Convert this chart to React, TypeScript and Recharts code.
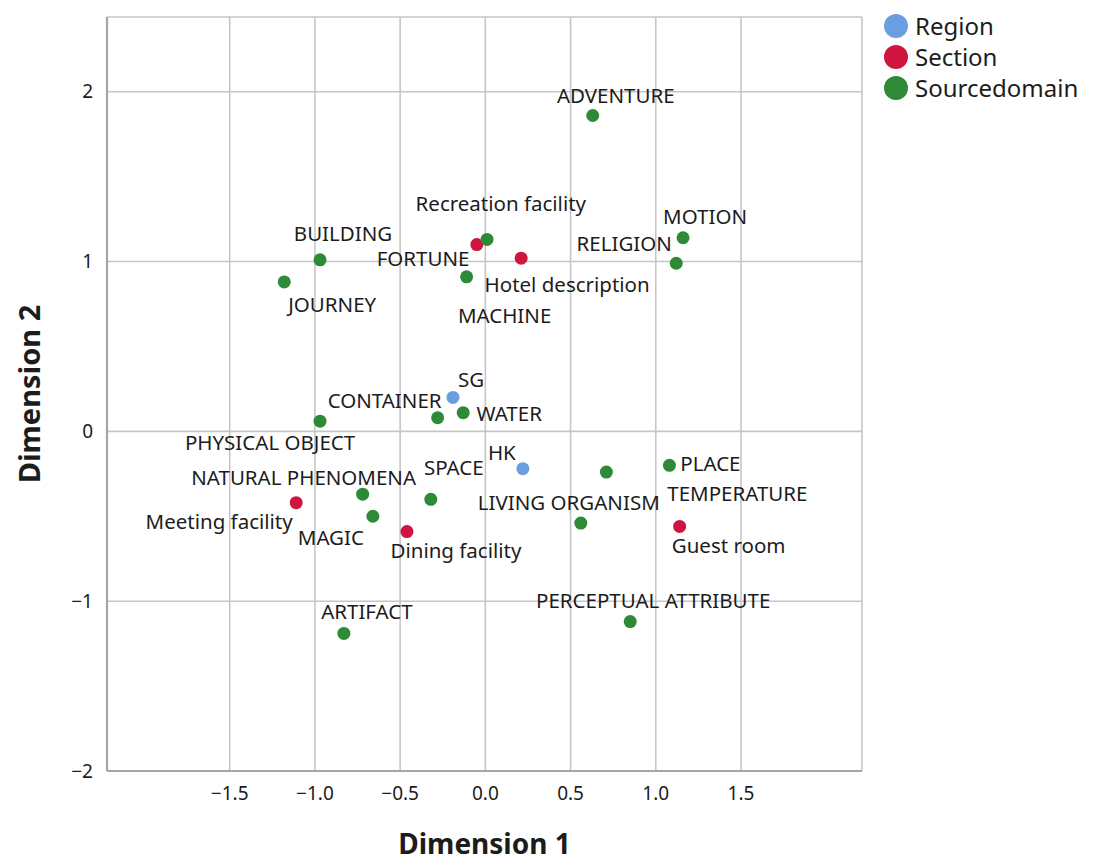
import { CartesianGrid, Label, Legend, Scatter, ScatterChart, XAxis, YAxis } from "recharts";

const COLORS = {
  region: "#6a9ee0",
  section: "#cf1440",
  source: "#2e8a36",
  grid: "#c6c6c6",
  axis: "#a6a6a6",
  text: "#1c1c1c",
};

const FONT = "'Noto Sans', 'DejaVu Sans', sans-serif";

const regionPoints = [
  { name: "SG", x: -0.19, y: 0.2 },
  { name: "HK", x: 0.22, y: -0.22 },
];

const sectionPoints = [
  { name: "Recreation facility", x: -0.05, y: 1.1 },
  { name: "Hotel description", x: 0.21, y: 1.02 },
  { name: "Meeting facility", x: -1.11, y: -0.42 },
  { name: "Dining facility", x: -0.46, y: -0.59 },
  { name: "Guest room", x: 1.14, y: -0.56 },
];

const sourcePoints = [
  { name: "ADVENTURE", x: 0.63, y: 1.86 },
  { name: "MOTION", x: 1.16, y: 1.14 },
  { name: "RELIGION", x: 1.12, y: 0.99 },
  { name: "FORTUNE", x: 0.01, y: 1.13 },
  { name: "BUILDING", x: -0.97, y: 1.01 },
  { name: "JOURNEY", x: -1.18, y: 0.88 },
  { name: "MACHINE", x: -0.11, y: 0.91 },
  { name: "PHYSICAL OBJECT", x: -0.97, y: 0.06 },
  { name: "CONTAINER", x: -0.28, y: 0.08 },
  { name: "WATER", x: -0.13, y: 0.11 },
  { name: "PLACE", x: 1.08, y: -0.2 },
  { name: "TEMPERATURE", x: 0.71, y: -0.24 },
  { name: "LIVING ORGANISM", x: 0.56, y: -0.54 },
  { name: "NATURAL PHENOMENA", x: -0.72, y: -0.37 },
  { name: "SPACE", x: -0.32, y: -0.4 },
  { name: "MAGIC", x: -0.66, y: -0.5 },
  { name: "PERCEPTUAL ATTRIBUTE", x: 0.85, y: -1.12 },
  { name: "ARTIFACT", x: -0.83, y: -1.19 },
];

const X_TICKS = [-1.5, -1, -0.5, 0, 0.5, 1, 1.5];
const Y_TICKS = [-2, -1, 0, 1, 2];

// where each label sits relative to its dot (text centre, px)
const LABEL_OFFSET: Record<string, [number, number]> = {
  SG: [18, -18],
  HK: [-21, -17],
  "Recreation facility": [24, -42],
  "Hotel description": [46, 26],
  "Meeting facility": [-77, 18],
  "Dining facility": [49, 18],
  "Guest room": [49, 19],
  ADVENTURE: [23, -20],
  MOTION: [22, -22],
  RELIGION: [-52, -20],
  FORTUNE: [-64, 19],
  BUILDING: [23, -27],
  JOURNEY: [48, 22],
  MACHINE: [38, 38],
  "PHYSICAL OBJECT": [-50, 21],
  CONTAINER: [-53, -18],
  WATER: [46, 0],
  PLACE: [41, -2],
  TEMPERATURE: [131, 21],
  "LIVING ORGANISM": [-12, -21],
  "NATURAL PHENOMENA": [-59, -17],
  SPACE: [23, -32],
  MAGIC: [-42, 21],
  "PERCEPTUAL ATTRIBUTE": [23, -22],
  ARTIFACT: [23, -22],
};

const minus = (v: number, digits: number) =>
  (v < 0 ? "\u2212" : "") + Math.abs(v).toFixed(digits);

const makeDot = (color: string) => (props: any) => {
  const { cx, cy, payload } = props;
  const [dx, dy] = LABEL_OFFSET[payload.name] ?? [0, -18];
  return (
    <g>
      <circle cx={cx} cy={cy} r={6.5} fill={color} />
      <text
        x={cx + dx}
        y={cy + dy}
        textAnchor="middle"
        dominantBaseline="central"
        fontSize={20.5}
        fontFamily={FONT}
        fill={COLORS.text}
      >
        {payload.name}
      </text>
    </g>
  );
};

const LegendBox = ({ payload }: any) => (
  <div style={{ fontFamily: FONT, fontSize: 24, color: COLORS.text }}>
    {(payload ?? []).map((p: any) => (
      <div key={p.value} style={{ display: "flex", alignItems: "center", height: 31 }}>
        <div
          style={{
            width: 24,
            height: 24,
            borderRadius: "50%",
            background: p.color,
            marginRight: 7,
          }}
        />
        <span style={{ lineHeight: "31px" }}>{p.value}</span>
      </div>
    ))}
  </div>
);

export default function App() {
  return (
    <div style={{ position: "absolute", left: 0, top: 0, width: 1095, height: 863, background: "#fff" }}>
      <ScatterChart
        width={1095}
        height={863}
        margin={{ top: 17, right: 233, bottom: 0, left: 0 }}
        style={{ fontFamily: FONT }}
      >
        <CartesianGrid stroke={COLORS.grid} strokeWidth={1.6} />
        <XAxis
          type="number"
          dataKey="x"
          domain={[-2.22, 2.21]}
          ticks={X_TICKS}
          allowDataOverflow
          height={92}
          tickLine={false}
          tickMargin={10}
          axisLine={{ stroke: COLORS.axis, strokeWidth: 2.2 }}
          tick={{ fontSize: 19, fill: COLORS.text, fontFamily: FONT }}
          tickFormatter={(v) => minus(Number(v), 1)}
        >
          <Label
            content={({ viewBox }: any) => (
              <text
                x={viewBox.x + viewBox.width / 2}
                y={viewBox.y + 83}
                textAnchor="middle"
                fontSize={28}
                fontWeight="bold"
                fontFamily={FONT}
                fill={COLORS.text}
              >
                Dimension 1
              </text>
            )}
          />
        </XAxis>
        <YAxis
          type="number"
          dataKey="y"
          domain={[-2, 2.44]}
          ticks={Y_TICKS}
          allowDataOverflow
          width={107}
          tickLine={false}
          tickMargin={8}
          axisLine={{ stroke: COLORS.axis, strokeWidth: 2.2 }}
          tick={{ fontSize: 19, fill: COLORS.text, fontFamily: FONT }}
          tickFormatter={(v) => minus(Number(v), 0)}
        >
          <Label
            content={({ viewBox }: any) => {
              const cx = 28;
              const cy = viewBox.y + viewBox.height / 2;
              return (
                <text
                  x={cx}
                  y={cy}
                  transform={`rotate(-90, ${cx}, ${cy})`}
                  textAnchor="middle"
                  dominantBaseline="central"
                  fontSize={29}
                  fontWeight="bold"
                  fontFamily={FONT}
                  fill={COLORS.text}
                >
                  Dimension 2
                </text>
              );
            }}
          />
        </YAxis>
        <Legend
          layout="horizontal"
          verticalAlign="middle"
          align="center"
          wrapperStyle={{ left: 884, top: 10, width: 211 }}
          content={<LegendBox />}
        />
        <Scatter
          name="Region"
          data={regionPoints}
          fill={COLORS.region}
          shape={makeDot(COLORS.region)}
          isAnimationActive={false}
        />
        <Scatter
          name="Section"
          data={sectionPoints}
          fill={COLORS.section}
          shape={makeDot(COLORS.section)}
          isAnimationActive={false}
        />
        <Scatter
          name="Sourcedomain"
          data={sourcePoints}
          fill={COLORS.source}
          shape={makeDot(COLORS.source)}
          isAnimationActive={false}
        />
      </ScatterChart>
    </div>
  );
}
